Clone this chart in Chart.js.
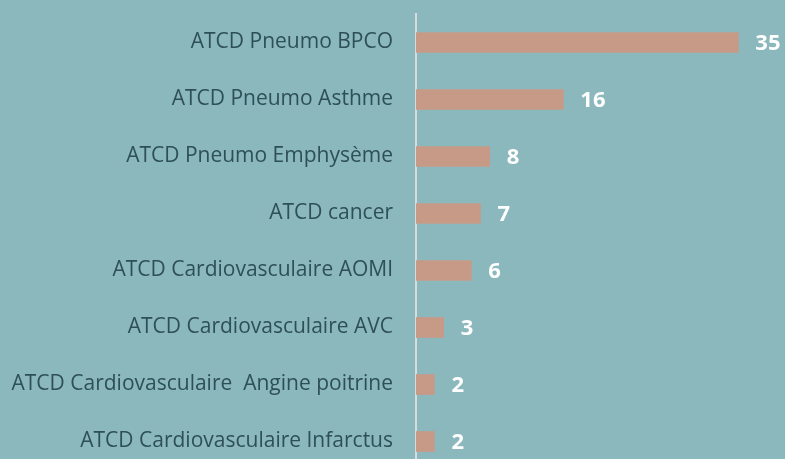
<!DOCTYPE html>
<html>
<head>
<meta charset="utf-8">
<script src="https://cdn.jsdelivr.net/npm/chart.js@4/dist/chart.umd.min.js"></script>
<style>
  html, body { margin: 0; padding: 0; overflow: hidden; background: #8bb8bd; }
  canvas { display: block; }
</style>
</head>
<body>
<canvas id="barChartATCD" width="785" height="470"></canvas>
<script>
var categories = [
  "ATCD Pneumo BPCO",
  "ATCD Pneumo Asthme",
  "ATCD Pneumo Emphysème",
  "ATCD cancer",
  "ATCD Cardiovasculaire AOMI",
  "ATCD Cardiovasculaire AVC",
  "ATCD Cardiovasculaire  Angine poitrine",
  "ATCD Cardiovasculaire Infarctus"
];
var counts = [35, 16, 8, 7, 6, 3, 2, 2];

// dessine la valeur en blanc à droite de chaque barre
var valueLabels = {
  id: "valueLabels",
  afterDatasetsDraw: function (chart) {
    var ctx = chart.ctx;
    var meta = chart.getDatasetMeta(0);
    ctx.save();
    ctx.fillStyle = "#ffffff";
    ctx.font = "bold 22px 'Open Sans', sans-serif";
    ctx.textAlign = "left";
    ctx.textBaseline = "middle";
    meta.data.forEach(function (bar, i) {
      ctx.fillText(String(counts[i]), bar.x + 17, bar.y + 1);
    });
    ctx.restore();
  }
};

var chartAreaLeft = 416;

new Chart(document.getElementById("barChartATCD").getContext("2d"), {
  type: "bar",
  data: {
    labels: categories,
    datasets: [
      {
        data: counts,
        backgroundColor: "#c79a88",
        barThickness: 20
      }
    ]
  },
  options: {
    indexAxis: "y",
    responsive: false,
    animation: false,
    layout: { padding: { top: 14, right: 19, bottom: 0, left: 0 } },
    scales: {
      x: {
        display: false,
        min: 0,
        max: 38
      },
      y: {
        grid: { display: false, drawTicks: false },
        border: { display: true, color: "#d6dcdc", width: 2 },
        ticks: {
          color: "#2e4f58",
          padding: 23,
          font: { family: "'Open Sans', sans-serif", size: 21 }
        },
        afterFit: function (scale) {
          scale.width = chartAreaLeft;
          scale.paddingTop = 0;
          scale.paddingBottom = 0;
        }
      }
    },
    plugins: {
      legend: { display: false },
      tooltip: { enabled: false }
    }
  },
  plugins: [valueLabels]
});
</script>
</body>
</html>
